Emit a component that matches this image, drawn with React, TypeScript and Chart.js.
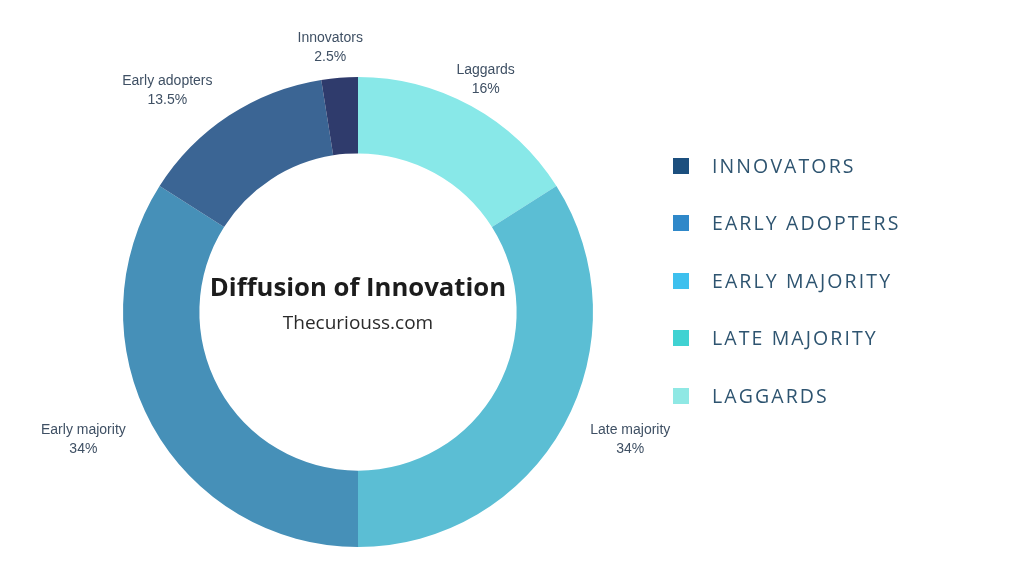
import React, { useEffect, useRef } from "react";
import { Chart, registerables } from "chart.js";

Chart.register(...registerables);

const categories = ["Laggards", "Late majority", "Early majority", "Early adopters", "Innovators"];
const shares = [16, 34, 34, 13.5, 2.5];
const sliceColors = ["#88e8e8", "#5bbed4", "#4690b8", "#3b6594", "#2f3b6c"];

const legendLabels = ["INNOVATORS", "EARLY ADOPTERS", "EARLY MAJORITY", "LATE MAJORITY", "LAGGARDS"];
const legendColors = ["#1c4f7e", "#2f88c9", "#3ec0ee", "#40d2d2", "#8fe8e4"];

const titleText = "Diffusion of Innovation";
const subtitleText = "Thecuriouss.com";

const labelPlugin = {
  id: "outerLabels",
  afterDatasetsDraw(chart: any) {
    const { ctx } = chart;
    const meta = chart.getDatasetMeta(0);
    ctx.save();
    ctx.font = '14px "Liberation Sans", Arial, sans-serif';
    ctx.fillStyle = "#3f5064";
    ctx.textBaseline = "middle";
    meta.data.forEach((arc: any, i: number) => {
      const p = arc.getProps(["x", "y", "startAngle", "endAngle", "outerRadius"], true);
      const mid = (p.startAngle + p.endAngle) / 2;
      const r = p.outerRadius + 30;
      let ax = p.x + Math.cos(mid) * r;
      const ay = p.y + Math.sin(mid) * r;
      const c = Math.cos(mid);
      let align: CanvasTextAlign = "center";
      if (c > 0.5) align = "left";
      else if (c < -0.5) align = "right";
      else if (c < -0.05) ax -= 7;
      ctx.textAlign = align;
      const l1 = categories[i];
      const l2 = shares[i] + "%";
      const w1 = ctx.measureText(l1).width;
      const w2 = ctx.measureText(l2).width;
      let x2 = ax;
      if (align === "left") x2 = ax + (w1 - w2) / 2;
      if (align === "right") x2 = ax - (w1 - w2) / 2;
      ctx.fillText(l1, ax, ay - 9.5);
      ctx.fillText(l2, x2, ay + 9.5);
    });
    // center text
    const a = meta.data[0];
    ctx.textAlign = "center";
    ctx.fillStyle = "#1c1c1c";
    ctx.font = 'bold 25.7px "Open Sans", sans-serif';
    ctx.fillText(titleText, a.x, a.y - 23);
    ctx.fillStyle = "#2a2a2a";
    ctx.font = '19px "Open Sans", sans-serif';
    ctx.fillText(subtitleText, a.x, a.y + 12);
    ctx.restore();
  },
};

export default function App() {
  const ref = useRef<HTMLCanvasElement>(null);
  useEffect(() => {
    if (!ref.current) return;
    const chart = new Chart(ref.current, {
      type: "doughnut",
      data: {
        labels: categories,
        datasets: [
          {
            data: shares,
            backgroundColor: sliceColors,
            borderWidth: 0,
          },
        ],
      },
      options: {
        animation: false,
        responsive: false,
        cutout: "67.5%",
        layout: { padding: { left: 123, right: 431, top: 77, bottom: 29 } },
        plugins: {
          legend: { display: false },
          tooltip: { enabled: false },
        },
      },
      plugins: [labelPlugin],
    });
    return () => chart.destroy();
  }, []);

  return (
    <div style={{ position: "fixed", left: 0, top: 0, width: 1024, height: 576, background: "#fff", overflow: "hidden" }}>
      <canvas ref={ref} width={1024} height={576} style={{ position: "absolute", left: 0, top: 0, width: 1024, height: 576 }} />
      <div style={{ position: "absolute", left: 673, top: 137 }}>
        {legendLabels.map((l, i) => (
          <div key={l} style={{ display: "flex", alignItems: "center", height: 57.5 }}>
            <div style={{ width: 16, height: 16, background: legendColors[i], marginRight: 23 }} />
            <span
              style={{
                fontFamily: '"Open Sans", sans-serif',
                fontSize: 19.5,
                letterSpacing: 2.1,
                color: "#2e5470",
                lineHeight: "20px",
              }}
            >
              {l}
            </span>
          </div>
        ))}
      </div>
    </div>
  );
}
